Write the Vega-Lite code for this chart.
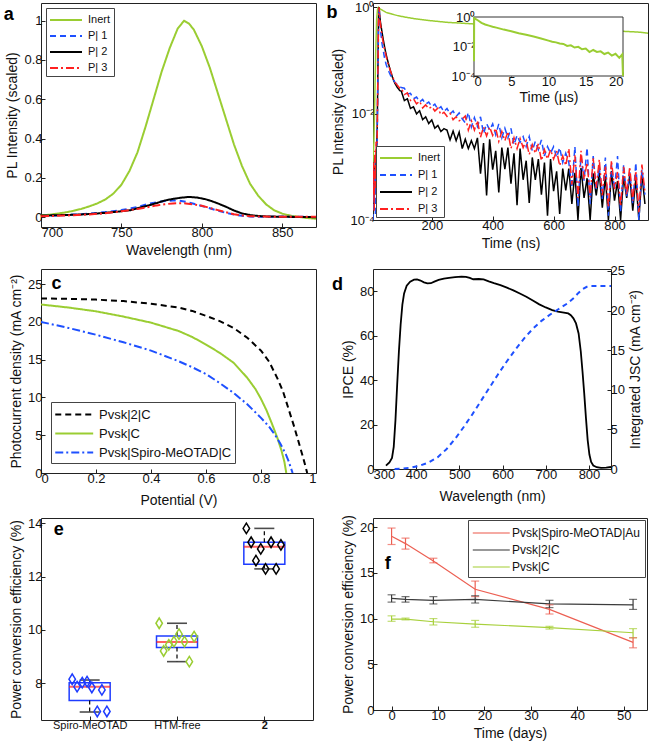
{
"$schema": "https://vega.github.io/schema/vega-lite/v6.json",
"background": "white",
"padding": {"left": 3, "top": 0, "right": 4, "bottom": 2},
"columns": 2,
"spacing": {"row": 6, "column": 8},
"config": {
  "font": "Liberation Sans",
  "view": {"stroke": "#222", "strokeWidth": 1},
  "axis": {"grid": false, "domain": false, "ticks": true, "tickSize": -4, "tickColor": "#222", "labelFontSize": 13, "labelColor": "#111", "titleFontSize": 14, "titleFontWeight": "normal", "titleColor": "#111", "labelPadding": 3, "titlePadding": 4},
  "legend": {"labelColor": "#111"}
},
"resolve": {"scale": {"color": "independent", "strokeDash": "independent"}, "legend": {"color": "independent", "strokeDash": "independent"}},
"datasets": {
  "a": [
    {"w":700,"s":"Inert","v":0.01},{"w":705,"s":"Inert","v":0.012},{"w":710,"s":"Inert","v":0.018},{"w":715,"s":"Inert","v":0.024},{"w":720,"s":"Inert","v":0.032},{"w":725,"s":"Inert","v":0.042},{"w":730,"s":"Inert","v":0.055},{"w":735,"s":"Inert","v":0.07},{"w":740,"s":"Inert","v":0.09},{"w":745,"s":"Inert","v":0.12},{"w":750,"s":"Inert","v":0.165},{"w":755,"s":"Inert","v":0.235},{"w":760,"s":"Inert","v":0.33},{"w":765,"s":"Inert","v":0.46},{"w":770,"s":"Inert","v":0.6},{"w":775,"s":"Inert","v":0.74},{"w":780,"s":"Inert","v":0.86},{"w":785,"s":"Inert","v":0.96},{"w":789,"s":"Inert","v":1.0},{"w":792,"s":"Inert","v":0.985},{"w":795,"s":"Inert","v":0.955},{"w":800,"s":"Inert","v":0.87},{"w":805,"s":"Inert","v":0.76},{"w":810,"s":"Inert","v":0.63},{"w":815,"s":"Inert","v":0.5},{"w":820,"s":"Inert","v":0.37},{"w":825,"s":"Inert","v":0.26},{"w":830,"s":"Inert","v":0.17},{"w":835,"s":"Inert","v":0.11},{"w":840,"s":"Inert","v":0.065},{"w":845,"s":"Inert","v":0.035},{"w":850,"s":"Inert","v":0.018},{"w":855,"s":"Inert","v":0.008},{"w":860,"s":"Inert","v":0.002},{"w":865,"s":"Inert","v":-0.004},{"w":871,"s":"Inert","v":-0.008},
    {"w":700,"s":"P| 1","v":0.006},{"w":710,"s":"P| 1","v":0.009},{"w":720,"s":"P| 1","v":0.013},{"w":730,"s":"P| 1","v":0.018},{"w":740,"s":"P| 1","v":0.026},{"w":750,"s":"P| 1","v":0.036},{"w":756,"s":"P| 1","v":0.045},{"w":760,"s":"P| 1","v":0.052},{"w":767,"s":"P| 1","v":0.068},{"w":772,"s":"P| 1","v":0.076},{"w":777,"s":"P| 1","v":0.082},{"w":782,"s":"P| 1","v":0.085},{"w":786,"s":"P| 1","v":0.084},{"w":790,"s":"P| 1","v":0.078},{"w":795,"s":"P| 1","v":0.068},{"w":800,"s":"P| 1","v":0.057},{"w":805,"s":"P| 1","v":0.045},{"w":810,"s":"P| 1","v":0.033},{"w":815,"s":"P| 1","v":0.022},{"w":820,"s":"P| 1","v":0.013},{"w":825,"s":"P| 1","v":0.007},{"w":830,"s":"P| 1","v":0.003},{"w":840,"s":"P| 1","v":0.002},{"w":850,"s":"P| 1","v":0.003},{"w":860,"s":"P| 1","v":0.002},{"w":871,"s":"P| 1","v":0.001},
    {"w":700,"s":"P| 2","v":0.008},{"w":710,"s":"P| 2","v":0.01},{"w":720,"s":"P| 2","v":0.012},{"w":730,"s":"P| 2","v":0.016},{"w":740,"s":"P| 2","v":0.022},{"w":750,"s":"P| 2","v":0.03},{"w":756,"s":"P| 2","v":0.036},{"w":760,"s":"P| 2","v":0.045},{"w":767,"s":"P| 2","v":0.06},{"w":772,"s":"P| 2","v":0.072},{"w":777,"s":"P| 2","v":0.085},{"w":782,"s":"P| 2","v":0.093},{"w":787,"s":"P| 2","v":0.099},{"w":792,"s":"P| 2","v":0.103},{"w":797,"s":"P| 2","v":0.1},{"w":802,"s":"P| 2","v":0.092},{"w":806,"s":"P| 2","v":0.082},{"w":810,"s":"P| 2","v":0.07},{"w":815,"s":"P| 2","v":0.053},{"w":820,"s":"P| 2","v":0.034},{"w":825,"s":"P| 2","v":0.019},{"w":830,"s":"P| 2","v":0.011},{"w":835,"s":"P| 2","v":0.006},{"w":840,"s":"P| 2","v":0.004},{"w":850,"s":"P| 2","v":0.002},{"w":860,"s":"P| 2","v":0.001},{"w":871,"s":"P| 2","v":0.0},
    {"w":700,"s":"P| 3","v":0.005},{"w":710,"s":"P| 3","v":0.007},{"w":720,"s":"P| 3","v":0.01},{"w":730,"s":"P| 3","v":0.014},{"w":740,"s":"P| 3","v":0.02},{"w":750,"s":"P| 3","v":0.03},{"w":756,"s":"P| 3","v":0.037},{"w":760,"s":"P| 3","v":0.042},{"w":767,"s":"P| 3","v":0.052},{"w":772,"s":"P| 3","v":0.06},{"w":777,"s":"P| 3","v":0.066},{"w":782,"s":"P| 3","v":0.07},{"w":786,"s":"P| 3","v":0.071},{"w":790,"s":"P| 3","v":0.07},{"w":795,"s":"P| 3","v":0.065},{"w":800,"s":"P| 3","v":0.058},{"w":805,"s":"P| 3","v":0.047},{"w":810,"s":"P| 3","v":0.036},{"w":815,"s":"P| 3","v":0.025},{"w":820,"s":"P| 3","v":0.015},{"w":825,"s":"P| 3","v":0.009},{"w":830,"s":"P| 3","v":0.005},{"w":840,"s":"P| 3","v":0.003},{"w":850,"s":"P| 3","v":0.002},{"w":860,"s":"P| 3","v":0.002},{"w":871,"s":"P| 3","v":0.002}
  ],
  "b": [
    {"t":7,"s":"Inert","v":0.0012},{"t":10,"s":"Inert","v":0.003},{"t":13,"s":"Inert","v":0.02},{"t":16,"s":"Inert","v":0.15},{"t":19,"s":"Inert","v":0.6},{"t":22,"s":"Inert","v":0.92},{"t":25,"s":"Inert","v":1.0},{"t":30,"s":"Inert","v":0.93},{"t":40,"s":"Inert","v":0.86},{"t":50,"s":"Inert","v":0.8},{"t":70,"s":"Inert","v":0.74},{"t":90,"s":"Inert","v":0.69},{"t":120,"s":"Inert","v":0.64},{"t":150,"s":"Inert","v":0.6},{"t":200,"s":"Inert","v":0.555},{"t":250,"s":"Inert","v":0.52},{"t":300,"s":"Inert","v":0.5},{"t":400,"s":"Inert","v":0.46},{"t":500,"s":"Inert","v":0.43},{"t":600,"s":"Inert","v":0.4},{"t":700,"s":"Inert","v":0.38},{"t":800,"s":"Inert","v":0.36},{"t":880,"s":"Inert","v":0.34},{"t":890,"s":"Inert","v":0.335},{"t":900,"s":"Inert","v":0.33},{"t":910,"s":"Inert","v":0.325},
    {"t":7,"s":"P| 2","v":0.0005},{"t":9,"s":"P| 2","v":0.0002},{"t":11,"s":"P| 2","v":0.001},{"t":13,"s":"P| 2","v":0.0003},{"t":15,"s":"P| 2","v":0.0015},{"t":17,"s":"P| 2","v":0.0005},{"t":19,"s":"P| 2","v":0.002},{"t":21,"s":"P| 2","v":0.006},{"t":23,"s":"P| 2","v":0.06},{"t":25,"s":"P| 2","v":0.55},{"t":27,"s":"P| 2","v":1.0},{"t":29,"s":"P| 2","v":0.72},{"t":31,"s":"P| 2","v":0.55},{"t":34,"s":"P| 2","v":0.42},{"t":37,"s":"P| 2","v":0.33},{"t":41,"s":"P| 2","v":0.24},{"t":45,"s":"P| 2","v":0.18},{"t":50,"s":"P| 2","v":0.13},{"t":55,"s":"P| 2","v":0.1},{"t":60,"s":"P| 2","v":0.078},{"t":65,"s":"P| 2","v":0.062},{"t":72,"s":"P| 2","v":0.046},{"t":79,"s":"P| 2","v":0.037},{"t":87,"s":"P| 2","v":0.031},{"t":95,"s":"P| 2","v":0.027},
    {"t":100,"s":"P| 2","v":0.0264},{"t":110,"s":"P| 2","v":0.0176},{"t":120,"s":"P| 2","v":0.019},{"t":130,"s":"P| 2","v":0.0125},{"t":140,"s":"P| 2","v":0.0134},{"t":150,"s":"P| 2","v":0.0099},{"t":160,"s":"P| 2","v":0.0113},{"t":170,"s":"P| 2","v":0.0077},{"t":180,"s":"P| 2","v":0.0087},{"t":190,"s":"P| 2","v":0.0065},{"t":200,"s":"P| 2","v":0.0076},{"t":210,"s":"P| 2","v":0.0053},{"t":220,"s":"P| 2","v":0.006},{"t":230,"s":"P| 2","v":0.0046},{"t":240,"s":"P| 2","v":0.0052},{"t":250,"s":"P| 2","v":0.0049},{"t":260,"s":"P| 2","v":0.0032},{"t":270,"s":"P| 2","v":0.0047},{"t":280,"s":"P| 2","v":0.0031},{"t":290,"s":"P| 2","v":0.0045},{"t":300,"s":"P| 2","v":0.0022},{"t":310,"s":"P| 2","v":0.0033},{"t":320,"s":"P| 2","v":0.0022},{"t":330,"s":"P| 2","v":0.0031},{"t":340,"s":"P| 2","v":0.0022},{"t":350,"s":"P| 2","v":0.0035},{"t":360,"s":"P| 2","v":0.00074},{"t":370,"s":"P| 2","v":0.0028},{"t":380,"s":"P| 2","v":0.00029},{"t":390,"s":"P| 2","v":0.0033},{"t":400,"s":"P| 2","v":0.00088},{"t":410,"s":"P| 2","v":0.002},{"t":420,"s":"P| 2","v":0.00033},{"t":430,"s":"P| 2","v":0.0023},{"t":440,"s":"P| 2","v":0.0009},{"t":450,"s":"P| 2","v":0.0023},{"t":460,"s":"P| 2","v":0.00048},{"t":470,"s":"P| 2","v":0.0018},{"t":480,"s":"P| 2","v":0.00019},{"t":490,"s":"P| 2","v":0.0022},{"t":500,"s":"P| 2","v":0.00057},{"t":510,"s":"P| 2","v":0.0013},{"t":520,"s":"P| 2","v":0.00021},{"t":530,"s":"P| 2","v":0.0015},{"t":540,"s":"P| 2","v":0.00057},{"t":550,"s":"P| 2","v":0.0014},{"t":560,"s":"P| 2","v":0.0003},{"t":570,"s":"P| 2","v":0.0012},{"t":580,"s":"P| 2","v":0.00012},{"t":590,"s":"P| 2","v":0.0014},{"t":600,"s":"P| 2","v":0.00035},{"t":610,"s":"P| 2","v":0.00082},{"t":620,"s":"P| 2","v":0.00013},{"t":630,"s":"P| 2","v":0.00093},{"t":640,"s":"P| 2","v":0.00036},{"t":650,"s":"P| 2","v":0.00093},{"t":660,"s":"P| 2","v":0.0002},{"t":670,"s":"P| 2","v":0.00077},{"t":680,"s":"P| 2","v":0.0001},{"t":690,"s":"P| 2","v":0.00095},{"t":700,"s":"P| 2","v":0.00026},{"t":710,"s":"P| 2","v":0.00061},{"t":720,"s":"P| 2","v":0.0001},{"t":730,"s":"P| 2","v":0.00075},{"t":740,"s":"P| 2","v":0.00029},{"t":750,"s":"P| 2","v":0.00077},{"t":760,"s":"P| 2","v":0.00017},{"t":770,"s":"P| 2","v":0.00066},{"t":780,"s":"P| 2","v":0.0001},{"t":790,"s":"P| 2","v":0.00083},{"t":800,"s":"P| 2","v":0.00023},{"t":810,"s":"P| 2","v":0.00054},{"t":820,"s":"P| 2","v":0.0001},{"t":830,"s":"P| 2","v":0.00066},{"t":840,"s":"P| 2","v":0.00026},{"t":850,"s":"P| 2","v":0.00069},{"t":860,"s":"P| 2","v":0.00015},{"t":870,"s":"P| 2","v":0.00059},{"t":880,"s":"P| 2","v":0.0001},{"t":890,"s":"P| 2","v":0.00074},{"t":900,"s":"P| 2","v":0.0002},
    {"t":7,"s":"P| 1","v":0.0001},{"t":9,"s":"P| 1","v":0.0006},{"t":11,"s":"P| 1","v":0.0002},{"t":13,"s":"P| 1","v":0.0009},{"t":15,"s":"P| 1","v":0.00012},{"t":17,"s":"P| 1","v":0.0012},{"t":19,"s":"P| 1","v":0.0004},{"t":21,"s":"P| 1","v":0.004},{"t":23,"s":"P| 1","v":0.04},{"t":25,"s":"P| 1","v":0.4},{"t":27,"s":"P| 1","v":0.95},{"t":29,"s":"P| 1","v":0.6},{"t":31,"s":"P| 1","v":0.4},{"t":34,"s":"P| 1","v":0.28},{"t":37,"s":"P| 1","v":0.2},{"t":41,"s":"P| 1","v":0.15},{"t":45,"s":"P| 1","v":0.11},{"t":50,"s":"P| 1","v":0.085},{"t":55,"s":"P| 1","v":0.07},{"t":60,"s":"P| 1","v":0.06},{"t":65,"s":"P| 1","v":0.052},{"t":72,"s":"P| 1","v":0.045},{"t":79,"s":"P| 1","v":0.039},{"t":87,"s":"P| 1","v":0.035},{"t":95,"s":"P| 1","v":0.032},
    {"t":100,"s":"P| 1","v":0.031},{"t":110,"s":"P| 1","v":0.03},{"t":120,"s":"P| 1","v":0.0235},{"t":130,"s":"P| 1","v":0.024},{"t":140,"s":"P| 1","v":0.019},{"t":150,"s":"P| 1","v":0.0205},{"t":160,"s":"P| 1","v":0.0165},{"t":170,"s":"P| 1","v":0.0185},{"t":180,"s":"P| 1","v":0.015},{"t":190,"s":"P| 1","v":0.0165},{"t":200,"s":"P| 1","v":0.0135},{"t":210,"s":"P| 1","v":0.015},{"t":220,"s":"P| 1","v":0.012},{"t":230,"s":"P| 1","v":0.0135},{"t":240,"s":"P| 1","v":0.0108},{"t":250,"s":"P| 1","v":0.0125},{"t":260,"s":"P| 1","v":0.0098},{"t":270,"s":"P| 1","v":0.0112},{"t":280,"s":"P| 1","v":0.0088},{"t":290,"s":"P| 1","v":0.0103},{"t":300,"s":"P| 1","v":0.008},
    {"t":310,"s":"P| 1","v":0.0067},{"t":320,"s":"P| 1","v":0.0105},{"t":330,"s":"P| 1","v":0.0056},{"t":340,"s":"P| 1","v":0.0084},{"t":350,"s":"P| 1","v":0.0057},{"t":360,"s":"P| 1","v":0.0087},{"t":370,"s":"P| 1","v":0.0042},{"t":380,"s":"P| 1","v":0.0065},{"t":390,"s":"P| 1","v":0.0049},{"t":400,"s":"P| 1","v":0.0064},{"t":410,"s":"P| 1","v":0.004},{"t":420,"s":"P| 1","v":0.0064},{"t":430,"s":"P| 1","v":0.0035},{"t":440,"s":"P| 1","v":0.0053},{"t":450,"s":"P| 1","v":0.0035},{"t":460,"s":"P| 1","v":0.0053},{"t":470,"s":"P| 1","v":0.0026},{"t":480,"s":"P| 1","v":0.0039},{"t":490,"s":"P| 1","v":0.0029},{"t":500,"s":"P| 1","v":0.0037},{"t":510,"s":"P| 1","v":0.0024},{"t":520,"s":"P| 1","v":0.0037},{"t":530,"s":"P| 1","v":0.002},{"t":540,"s":"P| 1","v":0.003},{"t":550,"s":"P| 1","v":0.0021},{"t":560,"s":"P| 1","v":0.0032},{"t":570,"s":"P| 1","v":0.0016},{"t":580,"s":"P| 1","v":0.0024},{"t":590,"s":"P| 1","v":0.0018},{"t":600,"s":"P| 1","v":0.0024},{"t":610,"s":"P| 1","v":0.0015},{"t":620,"s":"P| 1","v":0.0023},{"t":630,"s":"P| 1","v":0.0012},{"t":640,"s":"P| 1","v":0.0018},{"t":650,"s":"P| 1","v":0.0012},{"t":660,"s":"P| 1","v":0.0004},{"t":670,"s":"P| 1","v":0.0024},{"t":680,"s":"P| 1","v":0.00018},{"t":690,"s":"P| 1","v":0.0016},{"t":700,"s":"P| 1","v":0.00055},{"t":710,"s":"P| 1","v":0.0023},{"t":720,"s":"P| 1","v":0.0002},{"t":730,"s":"P| 1","v":0.0016},{"t":740,"s":"P| 1","v":0.00037},{"t":750,"s":"P| 1","v":0.001},{"t":760,"s":"P| 1","v":0.00025},{"t":770,"s":"P| 1","v":0.0015},{"t":780,"s":"P| 1","v":0.00012},{"t":790,"s":"P| 1","v":0.0011},{"t":800,"s":"P| 1","v":0.00037},{"t":810,"s":"P| 1","v":0.0016},{"t":820,"s":"P| 1","v":0.00014},{"t":830,"s":"P| 1","v":0.0011},{"t":840,"s":"P| 1","v":0.00027},{"t":850,"s":"P| 1","v":0.0008},{"t":860,"s":"P| 1","v":0.0002},{"t":870,"s":"P| 1","v":0.0012},{"t":880,"s":"P| 1","v":0.0001},{"t":890,"s":"P| 1","v":0.0009},{"t":900,"s":"P| 1","v":0.0003},
    {"t":7,"s":"P| 3","v":0.0003},{"t":9,"s":"P| 3","v":0.0012},{"t":11,"s":"P| 3","v":0.00015},{"t":13,"s":"P| 3","v":0.002},{"t":15,"s":"P| 3","v":0.0004},{"t":17,"s":"P| 3","v":0.003},{"t":19,"s":"P| 3","v":0.0008},{"t":21,"s":"P| 3","v":0.005},{"t":23,"s":"P| 3","v":0.05},{"t":25,"s":"P| 3","v":0.5},{"t":27,"s":"P| 3","v":1.0},{"t":29,"s":"P| 3","v":0.7},{"t":31,"s":"P| 3","v":0.5},{"t":34,"s":"P| 3","v":0.37},{"t":37,"s":"P| 3","v":0.28},{"t":41,"s":"P| 3","v":0.21},{"t":45,"s":"P| 3","v":0.16},{"t":50,"s":"P| 3","v":0.12},{"t":55,"s":"P| 3","v":0.093},{"t":60,"s":"P| 3","v":0.075},{"t":65,"s":"P| 3","v":0.062},{"t":72,"s":"P| 3","v":0.048},{"t":79,"s":"P| 3","v":0.039},{"t":87,"s":"P| 3","v":0.034},{"t":95,"s":"P| 3","v":0.03},
    {"t":100,"s":"P| 3","v":0.03},{"t":110,"s":"P| 3","v":0.0228},{"t":120,"s":"P| 3","v":0.0246},{"t":130,"s":"P| 3","v":0.0176},{"t":140,"s":"P| 3","v":0.0189},{"t":150,"s":"P| 3","v":0.0152},{"t":160,"s":"P| 3","v":0.0171},{"t":170,"s":"P| 3","v":0.0128},{"t":180,"s":"P| 3","v":0.0146},{"t":190,"s":"P| 3","v":0.0124},{"t":200,"s":"P| 3","v":0.0135},{"t":210,"s":"P| 3","v":0.0112},{"t":220,"s":"P| 3","v":0.0127},{"t":230,"s":"P| 3","v":0.0096},{"t":240,"s":"P| 3","v":0.0106},{"t":250,"s":"P| 3","v":0.0089},{"t":260,"s":"P| 3","v":0.0101},{"t":270,"s":"P| 3","v":0.0077},{"t":280,"s":"P| 3","v":0.0087},{"t":290,"s":"P| 3","v":0.0073},{"t":300,"s":"P| 3","v":0.0079},
    {"t":310,"s":"P| 3","v":0.009},{"t":320,"s":"P| 3","v":0.0049},{"t":330,"s":"P| 3","v":0.0073},{"t":340,"s":"P| 3","v":0.0049},{"t":350,"s":"P| 3","v":0.0074},{"t":360,"s":"P| 3","v":0.0036},{"t":370,"s":"P| 3","v":0.0056},{"t":380,"s":"P| 3","v":0.0038},{"t":390,"s":"P| 3","v":0.0056},{"t":400,"s":"P| 3","v":0.0039},{"t":410,"s":"P| 3","v":0.0053},{"t":420,"s":"P| 3","v":0.003},{"t":430,"s":"P| 3","v":0.0046},{"t":440,"s":"P| 3","v":0.0031},{"t":450,"s":"P| 3","v":0.0046},{"t":460,"s":"P| 3","v":0.0022},{"t":470,"s":"P| 3","v":0.0035},{"t":480,"s":"P| 3","v":0.0022},{"t":490,"s":"P| 3","v":0.0034},{"t":500,"s":"P| 3","v":0.0023},{"t":510,"s":"P| 3","v":0.0031},{"t":520,"s":"P| 3","v":0.0017},{"t":530,"s":"P| 3","v":0.0026},{"t":540,"s":"P| 3","v":0.0018},{"t":550,"s":"P| 3","v":0.0027},{"t":560,"s":"P| 3","v":0.0013},{"t":570,"s":"P| 3","v":0.0021},{"t":580,"s":"P| 3","v":0.0014},{"t":590,"s":"P| 3","v":0.0021},{"t":600,"s":"P| 3","v":0.0014},{"t":610,"s":"P| 3","v":0.002},{"t":620,"s":"P| 3","v":0.00105},{"t":630,"s":"P| 3","v":0.0016},{"t":640,"s":"P| 3","v":0.00106},{"t":650,"s":"P| 3","v":0.0022},{"t":660,"s":"P| 3","v":0.00046},{"t":670,"s":"P| 3","v":0.00165},{"t":680,"s":"P| 3","v":0.00026},{"t":690,"s":"P| 3","v":0.002},{"t":700,"s":"P| 3","v":0.00058},{"t":710,"s":"P| 3","v":0.0012},{"t":720,"s":"P| 3","v":0.00027},{"t":730,"s":"P| 3","v":0.00145},{"t":740,"s":"P| 3","v":0.0004},{"t":750,"s":"P| 3","v":0.00137},{"t":760,"s":"P| 3","v":0.00029},{"t":770,"s":"P| 3","v":0.00105},{"t":780,"s":"P| 3","v":0.00017},{"t":790,"s":"P| 3","v":0.00132},{"t":800,"s":"P| 3","v":0.00038},{"t":810,"s":"P| 3","v":0.0008},{"t":820,"s":"P| 3","v":0.00018},{"t":830,"s":"P| 3","v":0.001},{"t":840,"s":"P| 3","v":0.0003},{"t":850,"s":"P| 3","v":0.001},{"t":860,"s":"P| 3","v":0.00023},{"t":870,"s":"P| 3","v":0.00084},{"t":880,"s":"P| 3","v":0.00014},{"t":890,"s":"P| 3","v":0.0011},{"t":900,"s":"P| 3","v":0.00033}
  ],
  "bi": [
    {"t":0,"v":0.001},{"t":0.02,"v":0.85},{"t":0.5,"v":0.6},{"t":1,"v":0.4},{"t":1.5,"v":0.31},{"t":2,"v":0.26},{"t":2.5,"v":0.22},{"t":3,"v":0.19},{"t":4,"v":0.14},{"t":5,"v":0.107},{"t":6,"v":0.08},{"t":7,"v":0.062},{"t":8,"v":0.047},{"t":9,"v":0.035},{"t":10,"v":0.025},{"t":10.5,"v":0.021},{"t":11,"v":0.019},{"t":11.5,"v":0.016},{"t":12,"v":0.015},{"t":12.5,"v":0.011},{"t":13,"v":0.012},{"t":13.5,"v":0.0085},{"t":14,"v":0.0095},{"t":14.5,"v":0.0065},{"t":15,"v":0.0072},{"t":15.5,"v":0.0042},{"t":16,"v":0.0058},{"t":16.5,"v":0.0043},{"t":17,"v":0.0047},{"t":17.5,"v":0.0031},{"t":18,"v":0.0039},{"t":18.5,"v":0.0024},{"t":19,"v":0.0032},{"t":19.5,"v":0.0017},{"t":19.9,"v":0.0029},{"t":20,"v":0.0001}
  ],
  "c": [
    {"V":0,"s":"Pvsk|2|C","j":23.1},{"V":0.1,"s":"Pvsk|2|C","j":23.05},{"V":0.2,"s":"Pvsk|2|C","j":22.95},{"V":0.3,"s":"Pvsk|2|C","j":22.75},{"V":0.4,"s":"Pvsk|2|C","j":22.4},{"V":0.5,"s":"Pvsk|2|C","j":21.9},{"V":0.55,"s":"Pvsk|2|C","j":21.45},{"V":0.6,"s":"Pvsk|2|C","j":20.8},{"V":0.65,"s":"Pvsk|2|C","j":20.1},{"V":0.7,"s":"Pvsk|2|C","j":19.2},{"V":0.75,"s":"Pvsk|2|C","j":17.9},{"V":0.8,"s":"Pvsk|2|C","j":16.2},{"V":0.83,"s":"Pvsk|2|C","j":14.7},{"V":0.86,"s":"Pvsk|2|C","j":12.5},{"V":0.88,"s":"Pvsk|2|C","j":10.8},{"V":0.9,"s":"Pvsk|2|C","j":8.5},{"V":0.92,"s":"Pvsk|2|C","j":6.2},{"V":0.94,"s":"Pvsk|2|C","j":3.7},{"V":0.955,"s":"Pvsk|2|C","j":1.8},{"V":0.968,"s":"Pvsk|2|C","j":0},
    {"V":0,"s":"Pvsk|C","j":22.3},{"V":0.1,"s":"Pvsk|C","j":21.9},{"V":0.2,"s":"Pvsk|C","j":21.4},{"V":0.3,"s":"Pvsk|C","j":20.7},{"V":0.4,"s":"Pvsk|C","j":19.9},{"V":0.5,"s":"Pvsk|C","j":18.8},{"V":0.55,"s":"Pvsk|C","j":18.0},{"V":0.6,"s":"Pvsk|C","j":17.0},{"V":0.65,"s":"Pvsk|C","j":15.9},{"V":0.7,"s":"Pvsk|C","j":14.6},{"V":0.75,"s":"Pvsk|C","j":12.6},{"V":0.78,"s":"Pvsk|C","j":11.1},{"V":0.8,"s":"Pvsk|C","j":9.8},{"V":0.82,"s":"Pvsk|C","j":8.3},{"V":0.84,"s":"Pvsk|C","j":6.5},{"V":0.86,"s":"Pvsk|C","j":4.6},{"V":0.875,"s":"Pvsk|C","j":2.9},{"V":0.885,"s":"Pvsk|C","j":1.5},{"V":0.892,"s":"Pvsk|C","j":0},
    {"V":0,"s":"Pvsk|Spiro-MeOTAD|C","j":20.0},{"V":0.1,"s":"Pvsk|Spiro-MeOTAD|C","j":19.2},{"V":0.2,"s":"Pvsk|Spiro-MeOTAD|C","j":18.3},{"V":0.3,"s":"Pvsk|Spiro-MeOTAD|C","j":17.3},{"V":0.4,"s":"Pvsk|Spiro-MeOTAD|C","j":16.2},{"V":0.5,"s":"Pvsk|Spiro-MeOTAD|C","j":14.8},{"V":0.55,"s":"Pvsk|Spiro-MeOTAD|C","j":14.0},{"V":0.6,"s":"Pvsk|Spiro-MeOTAD|C","j":13.1},{"V":0.65,"s":"Pvsk|Spiro-MeOTAD|C","j":11.9},{"V":0.7,"s":"Pvsk|Spiro-MeOTAD|C","j":10.6},{"V":0.75,"s":"Pvsk|Spiro-MeOTAD|C","j":9.1},{"V":0.8,"s":"Pvsk|Spiro-MeOTAD|C","j":7.3},{"V":0.83,"s":"Pvsk|Spiro-MeOTAD|C","j":6.1},{"V":0.85,"s":"Pvsk|Spiro-MeOTAD|C","j":5.1},{"V":0.87,"s":"Pvsk|Spiro-MeOTAD|C","j":3.9},{"V":0.89,"s":"Pvsk|Spiro-MeOTAD|C","j":2.5},{"V":0.9,"s":"Pvsk|Spiro-MeOTAD|C","j":1.6},{"V":0.915,"s":"Pvsk|Spiro-MeOTAD|C","j":0}
  ],
  "dI": [
    {"w":330,"p":1.5},{"w":338,"p":3},{"w":344,"p":5},{"w":348,"p":10},{"w":352,"p":22},{"w":356,"p":38},{"w":360,"p":53},{"w":364,"p":65},{"w":368,"p":74},{"w":372,"p":79},{"w":378,"p":82.5},{"w":386,"p":84.3},{"w":395,"p":85.2},{"w":402,"p":85.3},{"w":410,"p":84.8},{"w":418,"p":84},{"w":426,"p":83.5},{"w":434,"p":83.6},{"w":442,"p":84.3},{"w":452,"p":85.1},{"w":464,"p":85.7},{"w":476,"p":86},{"w":490,"p":86.3},{"w":505,"p":86.6},{"w":515,"p":86.5},{"w":524,"p":86},{"w":532,"p":85.4},{"w":545,"p":85.5},{"w":556,"p":85.3},{"w":568,"p":84.4},{"w":580,"p":83.6},{"w":595,"p":82.7},{"w":610,"p":81.6},{"w":625,"p":80.4},{"w":640,"p":79},{"w":655,"p":77.5},{"w":670,"p":75.8},{"w":685,"p":74.1},{"w":700,"p":72.7},{"w":715,"p":71.5},{"w":728,"p":70.8},{"w":742,"p":70.4},{"w":752,"p":70},{"w":758,"p":69.2},{"w":764,"p":67.8},{"w":770,"p":65.5},{"w":776,"p":61},{"w":781,"p":53},{"w":785,"p":44},{"w":789,"p":34},{"w":793,"p":23},{"w":797,"p":13},{"w":801,"p":6.5},{"w":805,"p":3.2},{"w":810,"p":1.6},{"w":818,"p":0.8},{"w":828,"p":0.5},{"w":840,"p":0.6},{"w":851,"p":0.9}
  ],
  "dJ": [
    {"w":350,"j":0},{"w":370,"j":0.05},{"w":390,"j":0.2},{"w":410,"j":0.45},{"w":430,"j":0.85},{"w":450,"j":1.5},{"w":470,"j":2.5},{"w":490,"j":3.8},{"w":510,"j":5.3},{"w":530,"j":6.9},{"w":550,"j":8.6},{"w":570,"j":10.3},{"w":590,"j":12.0},{"w":610,"j":13.6},{"w":630,"j":15.1},{"w":650,"j":16.5},{"w":670,"j":17.7},{"w":690,"j":18.7},{"w":710,"j":19.5},{"w":730,"j":20.2},{"w":750,"j":20.9},{"w":765,"j":21.6},{"w":775,"j":22.2},{"w":785,"j":22.7},{"w":795,"j":23.0},{"w":805,"j":23.1},{"w":851,"j":23.1}
  ],
  "eb": [
    {"g":1,"q1":7.35,"q3":8.02,"med":7.87,"lo":6.92,"hi":8.12},
    {"g":2,"q1":9.34,"q3":9.77,"med":9.55,"lo":8.81,"hi":10.25},
    {"g":3,"q1":12.46,"q3":13.29,"med":13.12,"lo":12.29,"hi":13.81}
  ],
  "ep": [
    {"x":0.8,"v":8.15,"c":"S"},{"x":0.856,"v":7.87,"c":"S"},{"x":0.915,"v":8.02,"c":"S"},{"x":0.97,"v":8.06,"c":"S"},{"x":1.025,"v":7.84,"c":"S"},{"x":1.14,"v":7.75,"c":"S"},{"x":1.087,"v":6.94,"c":"S"},{"x":1.197,"v":6.94,"c":"S"},
    {"x":1.796,"v":10.25,"c":"H"},{"x":1.847,"v":9.21,"c":"H"},{"x":1.906,"v":9.44,"c":"H"},{"x":1.965,"v":9.56,"c":"H"},{"x":2.023,"v":9.84,"c":"H"},{"x":2.086,"v":9.56,"c":"H"},{"x":2.141,"v":8.81,"c":"H"},{"x":2.196,"v":9.75,"c":"H"},
    {"x":2.794,"v":13.81,"c":"T"},{"x":2.849,"v":13.29,"c":"T"},{"x":2.904,"v":12.6,"c":"T"},{"x":2.959,"v":13.04,"c":"T"},{"x":3.014,"v":12.29,"c":"T"},{"x":3.077,"v":13.29,"c":"T"},{"x":3.135,"v":12.29,"c":"T"},{"x":3.19,"v":13.19,"c":"T"}
  ],
  "f": [
    {"d":0,"s":"Pvsk|Spiro-MeOTAD|Au","m":19.0,"lo":18.1,"hi":19.9},{"d":3,"s":"Pvsk|Spiro-MeOTAD|Au","m":18.2,"lo":17.6,"hi":18.8},{"d":9,"s":"Pvsk|Spiro-MeOTAD|Au","m":16.3,"lo":16.1,"hi":16.6},{"d":18,"s":"Pvsk|Spiro-MeOTAD|Au","m":13.2,"lo":12.4,"hi":14.1},{"d":34,"s":"Pvsk|Spiro-MeOTAD|Au","m":11.0,"lo":10.5,"hi":11.5},{"d":52,"s":"Pvsk|Spiro-MeOTAD|Au","m":7.4,"lo":6.8,"hi":7.9},
    {"d":0,"s":"Pvsk|2|C","m":12.2,"lo":11.8,"hi":12.6},{"d":3,"s":"Pvsk|2|C","m":12.1,"lo":11.8,"hi":12.4},{"d":9,"s":"Pvsk|2|C","m":12.0,"lo":11.6,"hi":12.4},{"d":18,"s":"Pvsk|2|C","m":12.1,"lo":11.7,"hi":12.5},{"d":34,"s":"Pvsk|2|C","m":11.6,"lo":11.2,"hi":12.0},{"d":52,"s":"Pvsk|2|C","m":11.5,"lo":11.0,"hi":12.1},
    {"d":0,"s":"Pvsk|C","m":9.95,"lo":9.7,"hi":10.3},{"d":3,"s":"Pvsk|C","m":9.95,"lo":9.85,"hi":10.05},{"d":9,"s":"Pvsk|C","m":9.65,"lo":9.3,"hi":10.0},{"d":18,"s":"Pvsk|C","m":9.4,"lo":9.05,"hi":9.8},{"d":34,"s":"Pvsk|C","m":9.0,"lo":8.85,"hi":9.15},{"d":52,"s":"Pvsk|C","m":8.45,"lo":7.9,"hi":8.9}
  ]
},
"concat": [
  {
    "width": 275, "height": 224,
    "layer": [
      {"data": {"name": "a"},
       "mark": {"type": "line", "strokeWidth": 2, "clip": true},
       "encoding": {
         "x": {"field": "w", "type": "quantitative", "scale": {"domain": [700, 871], "nice": false, "zero": false}, "axis": {"title": "Wavelength (nm)", "values": [700, 750, 800, 850]}},
         "y": {"field": "v", "type": "quantitative", "scale": {"domain": [-0.05, 1.09], "nice": false}, "axis": {"title": "PL Intensity (scaled)", "values": [0, 0.2, 0.4, 0.6, 0.8, 1], "format": "~g"}},
         "color": {"field": "s", "type": "nominal", "scale": {"domain": ["Inert", "P| 1", "P| 2", "P| 3"], "range": ["#9acd32", "#1e50ff", "#000000", "#ff2020"]},
           "legend": {"title": null, "orient": "top-left", "offset": 5, "symbolType": "M-1,0H3", "symbolSize": 256, "symbolStrokeWidth": 2, "labelOffset": 21, "labelFontSize": 11, "fillColor": "#ffffff", "strokeColor": "#444", "padding": 3, "rowPadding": 2}},
         "strokeDash": {"field": "s", "type": "nominal", "scale": {"domain": ["Inert", "P| 1", "P| 2", "P| 3"], "range": [[1, 0], [6, 4], [1, 0], [8, 3, 2, 3]]},
           "legend": {"title": null, "orient": "top-left", "offset": 5, "symbolType": "M-1,0H3", "symbolSize": 256, "symbolStrokeWidth": 2, "labelOffset": 21, "labelFontSize": 11, "fillColor": "#ffffff", "strokeColor": "#444", "padding": 3, "rowPadding": 2}}
       }},
      {"data": {"values": [{}]}, "mark": {"type": "text", "fontSize": 18, "fontWeight": "bold", "baseline": "middle", "color": "#000"},
       "encoding": {"x": {"datum": 680}, "y": {"datum": 1.03}, "text": {"value": "a"}}}
    ]
  },
  {
    "width": 275, "height": 217,
    "layer": [
      {"layer": [
        {"data": {"name": "b"},
         "mark": {"type": "line", "strokeWidth": 1.5, "clip": true},
         "encoding": {
           "x": {"field": "t", "type": "quantitative", "scale": {"domain": [7, 910], "nice": false, "zero": false}, "axis": {"title": "Time (ns)", "values": [200, 400, 600, 800]}},
           "y": {"field": "v", "type": "quantitative", "scale": {"type": "log", "domain": [0.0001, 1.2], "nice": false, "clamp": true}, "axis": {"title": "PL Intensity (scaled)", "values": [0.0001, 0.01, 1], "labelExpr": "datum.value >= 0.5 ? '10⁰' : datum.value >= 0.005 ? '10⁻²' : '10⁻⁴'"}},
           "color": {"field": "s", "type": "nominal", "sort": null, "scale": {"domain": ["Inert", "P| 1", "P| 2", "P| 3"], "range": ["#9acd32", "#1e50ff", "#000000", "#ff2020"]},
             "legend": {"title": null, "orient": "bottom-left", "offset": 3, "symbolType": "M-1,0H3", "symbolSize": 256, "symbolStrokeWidth": 2, "labelOffset": 21, "labelFontSize": 11, "fillColor": "#ffffff", "strokeColor": "#444", "padding": 3, "rowPadding": 3}},
           "strokeDash": {"field": "s", "type": "nominal", "sort": null, "scale": {"domain": ["Inert", "P| 1", "P| 2", "P| 3"], "range": [[1, 0], [6, 4], [1, 0], [8, 3, 2, 3]]},
             "legend": {"title": null, "orient": "bottom-left", "offset": 3, "symbolType": "M-1,0H3", "symbolSize": 256, "symbolStrokeWidth": 2, "labelOffset": 21, "labelFontSize": 11, "fillColor": "#ffffff", "strokeColor": "#444", "padding": 3, "rowPadding": 3}}
         }},
        {"data": {"values": [{}]}, "mark": {"type": "text", "fontSize": 18, "fontWeight": "bold", "baseline": "middle", "color": "#000"},
         "encoding": {"x": {"datum": -128}, "y": {"datum": 0.78}, "text": {"value": "b"}}}
      ]},
      {"layer": [
        {"data": {"values": [{}]}, "mark": {"type": "rect", "fill": "#ffffff", "stroke": "#333", "strokeWidth": 1},
         "encoding": {"x": {"datum": 0, "type": "quantitative"}, "x2": {"datum": 20}, "y": {"datum": 0.0001, "type": "quantitative"}, "y2": {"datum": 1}}},
        {"data": {"name": "bi"}, "mark": {"type": "line", "color": "#9acd32", "strokeWidth": 2},
         "encoding": {
           "x": {"field": "t", "type": "quantitative", "scale": {"domain": [0, 20], "range": [101, 250], "nice": false, "zero": false}, "axis": {"orient": "bottom", "offset": -144, "title": "Time (µs)", "values": [0, 5, 10, 15, 20], "titlePadding": 2}},
           "y": {"field": "v", "type": "quantitative", "scale": {"type": "log", "domain": [0.0001, 1], "range": [73, 14], "nice": false}, "axis": {"orient": "left", "offset": -101, "title": null, "values": [0.0001, 0.01, 1], "labelExpr": "datum.value >= 0.5 ? '10⁰' : datum.value >= 0.005 ? '10⁻²' : '10⁻⁴'"}}
         }}
      ]}
    ],
    "resolve": {"scale": {"x": "independent", "y": "independent"}, "axis": {"x": "independent", "y": "independent"}}
  },
  {
    "width": 275, "height": 204,
    "layer": [
      {"data": {"name": "c"},
       "mark": {"type": "line", "strokeWidth": 2, "clip": true},
       "encoding": {
         "x": {"field": "V", "type": "quantitative", "scale": {"domain": [0, 1], "nice": false}, "axis": {"title": "Potential (V)", "values": [0, 0.2, 0.4, 0.6, 0.8, 1], "format": "~g", "titlePadding": 8}},
         "y": {"field": "j", "type": "quantitative", "scale": {"domain": [0, 27], "nice": false}, "axis": {"title": "Photocurrent density (mA cm⁻²)", "values": [0, 5, 10, 15, 20, 25]}},
         "color": {"field": "s", "type": "nominal", "scale": {"domain": ["Pvsk|2|C", "Pvsk|C", "Pvsk|Spiro-MeOTAD|C"], "range": ["#000000", "#9acd32", "#1e50ff"]},
           "legend": {"title": null, "orient": "bottom-left", "offset": 10, "symbolType": "M-1,0H3.6", "symbolSize": 272, "symbolStrokeWidth": 2, "labelOffset": 26, "labelFontSize": 13, "fillColor": "#ffffff", "strokeColor": "#444", "padding": 3, "rowPadding": 2}},
         "strokeDash": {"field": "s", "type": "nominal", "scale": {"domain": ["Pvsk|2|C", "Pvsk|C", "Pvsk|Spiro-MeOTAD|C"], "range": [[6, 4], [1, 0], [8, 3, 2, 3]]},
           "legend": {"title": null, "orient": "bottom-left", "offset": 10, "symbolType": "M-1,0H3.6", "symbolSize": 272, "symbolStrokeWidth": 2, "labelOffset": 26, "labelFontSize": 13, "fillColor": "#ffffff", "strokeColor": "#444", "padding": 3, "rowPadding": 2}}
       }},
      {"data": {"values": [{}]}, "mark": {"type": "text", "fontSize": 18, "fontWeight": "bold", "baseline": "middle", "color": "#000"},
       "encoding": {"x": {"datum": 0.056}, "y": {"datum": 25}, "text": {"value": "c"}}}
    ]
  },
  {
    "width": 238, "height": 200,
    "layer": [
      {"layer": [
        {"data": {"name": "dI"}, "mark": {"type": "line", "color": "#000", "strokeWidth": 1.8},
         "encoding": {
           "x": {"field": "w", "type": "quantitative", "scale": {"domain": [300, 851], "nice": false, "zero": false}, "axis": {"title": "Wavelength (nm)", "values": [300, 400, 500, 600, 700, 800], "titlePadding": 8}},
           "y": {"field": "p", "type": "quantitative", "scale": {"domain": [0, 90], "nice": false}, "axis": {"title": "IPCE (%)", "values": [0, 20, 40, 60, 80]}}
         }},
        {"data": {"values": [{}]}, "mark": {"type": "text", "fontSize": 18, "fontWeight": "bold", "baseline": "middle", "color": "#000"},
         "encoding": {"x": {"datum": 218}, "y": {"datum": 83}, "text": {"value": "d"}}}
      ]},
      {"data": {"name": "dJ"}, "mark": {"type": "line", "color": "#1e50ff", "strokeWidth": 2, "strokeDash": [5, 4]},
       "encoding": {
         "x": {"field": "w", "type": "quantitative", "axis": {"title": "Wavelength (nm)", "values": [300, 400, 500, 600, 700, 800], "titlePadding": 8}},
         "y": {"field": "j", "type": "quantitative", "scale": {"domain": [0, 25.25], "nice": false}, "axis": {"orient": "right", "title": "Integrated JSC (mA cm⁻²)", "values": [0, 5, 10, 15, 20, 25], "titleAngle": 270, "titleBaseline": "top"}}
       }}
    ],
    "resolve": {"scale": {"y": "independent"}, "axis": {"y": "independent"}}
  },
  {
    "width": 272, "height": 202,
    "layer": [
      {"data": {"name": "eb"}, "mark": {"type": "bar", "width": 41, "fill": "transparent", "stroke": "#1e3cff", "strokeWidth": 1.5},
       "encoding": {
         "x": {"field": "g", "type": "quantitative", "scale": {"domain": [0.5, 3.5], "nice": false, "zero": false}, "axis": {"title": null, "values": [1, 2, 3], "labelFontSize": 11, "labelExpr": "datum.value == 1 ? 'Spiro-MeOTAD' : datum.value == 2 ? 'HTM-free' : '2'", "labelFontWeight": {"condition": {"test": "datum.value == 3", "value": "bold"}, "value": "normal"}}},
         "y": {"field": "q1", "type": "quantitative", "scale": {"domain": [6.62, 14.2], "nice": false, "zero": false}, "axis": {"title": "Power conversion efficiency (%)", "values": [8, 10, 12, 14]}},
         "y2": {"field": "q3"}
       }},
      {"data": {"name": "eb"}, "mark": {"type": "rule", "color": "#000", "strokeWidth": 1.2, "strokeDash": [4, 3]},
       "encoding": {"x": {"field": "g", "type": "quantitative"}, "y": {"field": "q3", "type": "quantitative"}, "y2": {"field": "hi"}}},
      {"data": {"name": "eb"}, "mark": {"type": "rule", "color": "#000", "strokeWidth": 1.2, "strokeDash": [4, 3]},
       "encoding": {"x": {"field": "g", "type": "quantitative"}, "y": {"field": "q1", "type": "quantitative"}, "y2": {"field": "lo"}}},
      {"data": {"name": "eb"}, "mark": {"type": "tick", "orient": "horizontal", "size": 20, "thickness": 1.6, "color": "#000"},
       "encoding": {"x": {"field": "g", "type": "quantitative"}, "y": {"field": "hi", "type": "quantitative"}}},
      {"data": {"name": "eb"}, "mark": {"type": "tick", "orient": "horizontal", "size": 20, "thickness": 1.6, "color": "#000"},
       "encoding": {"x": {"field": "g", "type": "quantitative"}, "y": {"field": "lo", "type": "quantitative"}}},
      {"data": {"name": "eb"}, "mark": {"type": "tick", "orient": "horizontal", "size": 41, "thickness": 2, "color": "#ff2020"},
       "encoding": {"x": {"field": "g", "type": "quantitative"}, "y": {"field": "med", "type": "quantitative"}}},
      {"data": {"name": "ep"}, "mark": {"type": "point", "shape": "M0,-1L0.62,0L0,1L-0.62,0Z", "size": 110, "filled": false, "strokeWidth": 1.5, "opacity": 1},
       "encoding": {"x": {"field": "x", "type": "quantitative"}, "y": {"field": "v", "type": "quantitative"},
         "color": {"field": "c", "type": "nominal", "scale": {"domain": ["S", "H", "T"], "range": ["#1e3cff", "#9acd32", "#000000"]}, "legend": null}}},
      {"data": {"values": [{}]}, "mark": {"type": "text", "fontSize": 18, "fontWeight": "bold", "baseline": "middle", "color": "#000"},
       "encoding": {"x": {"datum": 0.646}, "y": {"datum": 13.75}, "text": {"value": "e"}}}
    ]
  },
  {
    "width": 274, "height": 192,
    "layer": [
      {"data": {"name": "f"}, "mark": {"type": "line", "strokeWidth": 1.2},
       "encoding": {
         "x": {"field": "d", "type": "quantitative", "scale": {"domain": [-4, 55], "nice": false, "zero": false}, "axis": {"title": "Time (days)", "values": [0, 10, 20, 30, 40, 50]}},
         "y": {"field": "m", "type": "quantitative", "scale": {"domain": [0, 21], "nice": false}, "axis": {"title": "Power conversion efficiency (%)", "values": [0, 5, 10, 15, 20]}},
         "color": {"field": "s", "type": "nominal", "scale": {"domain": ["Pvsk|Spiro-MeOTAD|Au", "Pvsk|2|C", "Pvsk|C"], "range": ["#ec5f52", "#3c3c3c", "#a8d03c"]},
           "legend": {"title": null, "orient": "top-right", "offset": 2, "symbolType": "M-1,0H3.5", "symbolSize": 270, "symbolStrokeWidth": 1.5, "labelOffset": 22, "labelFontSize": 12, "fillColor": "#ffffff", "strokeColor": "#444", "padding": 4, "rowPadding": 2}}
       }},
      {"data": {"name": "f"}, "mark": {"type": "rule", "strokeWidth": 1.2},
       "encoding": {"x": {"field": "d", "type": "quantitative"}, "y": {"field": "lo", "type": "quantitative"}, "y2": {"field": "hi"}, "color": {"field": "s", "type": "nominal"}}},
      {"data": {"name": "f"}, "mark": {"type": "tick", "orient": "horizontal", "size": 8, "thickness": 1.2},
       "encoding": {"x": {"field": "d", "type": "quantitative"}, "y": {"field": "lo", "type": "quantitative"}, "color": {"field": "s", "type": "nominal"}}},
      {"data": {"name": "f"}, "mark": {"type": "tick", "orient": "horizontal", "size": 8, "thickness": 1.2},
       "encoding": {"x": {"field": "d", "type": "quantitative"}, "y": {"field": "hi", "type": "quantitative"}, "color": {"field": "s", "type": "nominal"}}},
      {"data": {"values": [{}]}, "mark": {"type": "text", "fontSize": 18, "fontWeight": "bold", "baseline": "middle", "color": "#000"},
       "encoding": {"x": {"datum": -0.85}, "y": {"datum": 16}, "text": {"value": "f"}}}
    ]
  }
]
}
